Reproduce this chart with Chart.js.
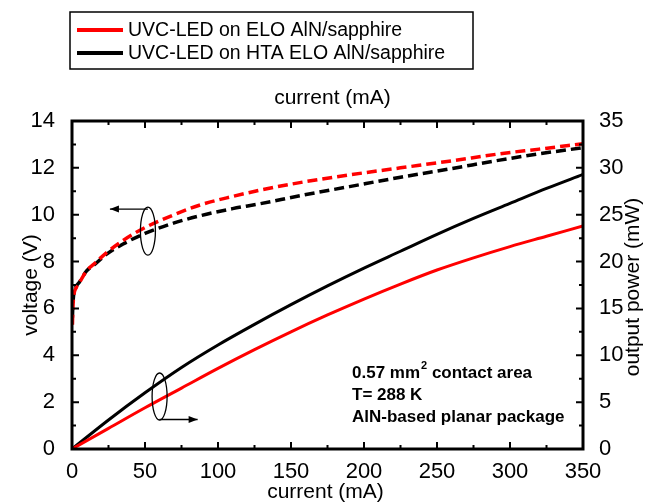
<!DOCTYPE html>
<html>
<head>
<meta charset="utf-8">
<script src="https://cdn.jsdelivr.net/npm/chart.js@4.4.1/dist/chart.umd.min.js"></script>
<style>
  html, body { margin: 0; padding: 0; background: #fff; }
  #chart { display: block; }
</style>
</head>
<body>
<canvas id="chart" width="655" height="504"></canvas>
<script>
// series labels
const seriesLabels = ['UVC-LED on ELO AlN/sapphire', 'UVC-LED on HTA ELO AlN/sapphire'];
const seriesColors = ['#ff0000', '#000000'];

// voltage vs current (left axis, dashed)
const currentV = [0.3, 0.5, 1, 3, 5, 10, 16, 24, 35, 50, 70, 88, 110, 129, 156, 190, 225, 260, 293, 320, 350];
const voltageElo = [5.3, 5.8, 6.4, 6.9, 7.1, 7.6, 7.95, 8.4, 8.9, 9.45, 10.0, 10.42, 10.78, 11.05, 11.37, 11.7, 12.0, 12.3, 12.6, 12.8, 13.03];
const voltageHta = [5.6, 6.0, 6.5, 6.95, 7.12, 7.6, 7.9, 8.33, 8.75, 9.2, 9.65, 9.96, 10.26, 10.47, 10.81, 11.2, 11.6, 11.97, 12.33, 12.6, 12.86];

// output power vs current (right axis, solid)
const currentP = [0, 25, 50, 75, 100, 125, 150, 175, 200, 225, 250, 275, 300, 325, 350];
const powerElo = [0, 2.2, 4.4, 6.5, 8.6, 10.6, 12.5, 14.3, 16.0, 17.6, 19.1, 20.4, 21.6, 22.7, 23.8];
const powerHta = [0, 3.1, 6.0, 8.7, 11.1, 13.3, 15.4, 17.4, 19.3, 21.1, 22.9, 24.6, 26.2, 27.8, 29.3];

// axes
const xMin = 0, xMax = 350, xStep = 50;
const vMin = 0, vMax = 14, vStep = 2;
const pMin = 0, pMax = 35, pStep = 5;
const xTitle = 'current (mA)';
const vTitle = 'voltage (V)';
const pTitle = 'output power (mW)';
const noteLines = ['0.57 mm', 'T= 288 K', 'AlN-based planar package'];

const FONT = 'Arial, "Liberation Sans", sans-serif';

function pairs(xs, ys) {
    return xs.map((x, i) => ({ x: x, y: ys[i] }));
}

function arrow(ctx, x1, y1, x2, y2) {
    ctx.beginPath();
    ctx.moveTo(x1, y1);
    ctx.lineTo(x2, y2);
    ctx.stroke();
    const dir = Math.sign(x2 - x1);
    ctx.beginPath();
    ctx.moveTo(x2, y2);
    ctx.lineTo(x2 - dir * 9, y2 - 3.5);
    ctx.lineTo(x2 - dir * 9, y2 + 3.5);
    ctx.closePath();
    ctx.fill();
}

const decorPlugin = {
    id: 'decor',
    afterDatasetsDraw(chart) {
        const ctx = chart.ctx;
        const a = chart.chartArea;
        const xs = chart.scales.x, ys = chart.scales.y, ps = chart.scales.y2;
        ctx.save();
        ctx.strokeStyle = '#000';
        ctx.fillStyle = '#000';

        // inward ticks
        ctx.lineWidth = 2;
        ctx.beginPath();
        for (let v = xMin; v <= xMax; v += xStep / 2) {
            const px = xs.getPixelForValue(v);
            const len = (v % xStep === 0) ? 7 : 4;
            ctx.moveTo(px, a.bottom); ctx.lineTo(px, a.bottom - len);
            ctx.moveTo(px, a.top); ctx.lineTo(px, a.top + len);
        }
        for (let v = vMin; v <= vMax; v += vStep / 2) {
            const py = ys.getPixelForValue(v);
            const len = (v % vStep === 0) ? 7 : 4;
            ctx.moveTo(a.left, py); ctx.lineTo(a.left + len, py);
        }
        for (let v = pMin; v <= pMax; v += pStep / 2) {
            const py = ps.getPixelForValue(v);
            const len = (v % pStep === 0) ? 7 : 4;
            ctx.moveTo(a.right, py); ctx.lineTo(a.right - len, py);
        }
        ctx.stroke();

        // frame
        ctx.lineWidth = 3;
        ctx.strokeRect(a.left, a.top, a.right - a.left, a.bottom - a.top);

        // axis titles
        ctx.font = '21px ' + FONT;
        ctx.textAlign = 'center';
        ctx.textBaseline = 'middle';
        const midX = (a.left + a.right) / 2;
        ctx.fillText(xTitle, midX - 2, 492);
        ctx.fillText(xTitle, midX + 5, 98);
        ctx.save();
        ctx.translate(31, (a.top + a.bottom) / 2);
        ctx.rotate(-Math.PI / 2);
        ctx.fillText(vTitle, 0, 0);
        ctx.restore();
        ctx.save();
        ctx.translate(633, (a.top + a.bottom) / 2 + 2);
        ctx.rotate(-Math.PI / 2);
        ctx.fillText(pTitle, 0, 0);
        ctx.restore();

        // legend
        ctx.lineWidth = 1.5;
        ctx.strokeRect(70, 12, 403, 57);
        ctx.font = '19.5px ' + FONT;
        ctx.textAlign = 'left';
        seriesLabels.forEach((label, i) => {
            const y = 30 + i * 23;
            ctx.strokeStyle = seriesColors[i];
            ctx.lineWidth = 4;
            ctx.beginPath();
            ctx.moveTo(77, y); ctx.lineTo(123, y);
            ctx.stroke();
            ctx.fillText(label, 128, y + 1);
        });

        // ellipse markers with arrows
        ctx.strokeStyle = '#000';
        ctx.lineWidth = 1.3;
        const e1x = xs.getPixelForValue(52), e1y = ys.getPixelForValue(9.3);
        ctx.beginPath();
        ctx.ellipse(e1x, e1y, 7.5, 24, 0, 0, Math.PI * 2);
        ctx.stroke();
        arrow(ctx, e1x, e1y - 22, e1x - 38, e1y - 22);
        const e2x = xs.getPixelForValue(60), e2y = ps.getPixelForValue(5.6);
        ctx.beginPath();
        ctx.ellipse(e2x, e2y, 7.5, 23.5, 0, 0, Math.PI * 2);
        ctx.stroke();
        arrow(ctx, e2x, e2y + 23, e2x + 38, e2y + 23);

        // note
        ctx.font = 'bold 17px ' + FONT;
        ctx.textBaseline = 'middle';
        const nx = 352;
        ctx.fillText(noteLines[0], nx, 373);
        const w0 = ctx.measureText(noteLines[0]).width;
        ctx.font = 'bold 11px ' + FONT;
        ctx.fillText('2', nx + w0 + 1, 366);
        const w2 = ctx.measureText('2').width;
        ctx.font = 'bold 17px ' + FONT;
        ctx.fillText(' contact area', nx + w0 + w2 + 1, 373);
        ctx.fillText(noteLines[1], nx, 395);
        ctx.fillText(noteLines[2], nx, 417);

        ctx.restore();
    }
};

const tickFont = { family: FONT, size: 22 };

new Chart(document.getElementById('chart'), {
    type: 'line',
    data: {
        datasets: [
            { label: seriesLabels[0], data: pairs(currentV, voltageElo), yAxisID: 'y', borderColor: seriesColors[0], borderWidth: 3.5, borderDash: [10, 5] },
            { label: seriesLabels[1], data: pairs(currentV, voltageHta), yAxisID: 'y', borderColor: seriesColors[1], borderWidth: 3.5, borderDash: [10, 5] },
            { label: seriesLabels[0], data: pairs(currentP, powerElo), yAxisID: 'y2', borderColor: seriesColors[0], borderWidth: 3 },
            { label: seriesLabels[1], data: pairs(currentP, powerHta), yAxisID: 'y2', borderColor: seriesColors[1], borderWidth: 3 }
        ]
    },
    options: {
        responsive: false,
        animation: false,
        devicePixelRatio: 1,
        layout: { padding: { top: 121, left: 0, right: 0, bottom: 0 } },
        elements: {
            point: { radius: 0 },
            line: { cubicInterpolationMode: 'monotone', fill: false, borderCapStyle: 'butt' }
        },
        plugins: { legend: { display: false }, tooltip: { enabled: false } },
        scales: {
            x: {
                type: 'linear', min: xMin, max: xMax,
                ticks: { stepSize: xStep, font: tickFont, color: '#000', padding: 2, maxRotation: 0 },
                grid: { display: false }, border: { display: false },
                afterFit: s => { s.height = 55; }
            },
            y: {
                position: 'left', min: vMin, max: vMax,
                ticks: { stepSize: vStep, font: tickFont, color: '#000', padding: 9 },
                grid: { display: false }, border: { display: false },
                afterFit: s => { s.width = 72; }
            },
            y2: {
                position: 'right', min: pMin, max: pMax,
                ticks: { stepSize: pStep, font: tickFont, color: '#000', padding: 8 },
                grid: { display: false }, border: { display: false },
                afterFit: s => { s.width = 72; }
            }
        }
    },
    plugins: [decorPlugin]
});
</script>
</body>
</html>
